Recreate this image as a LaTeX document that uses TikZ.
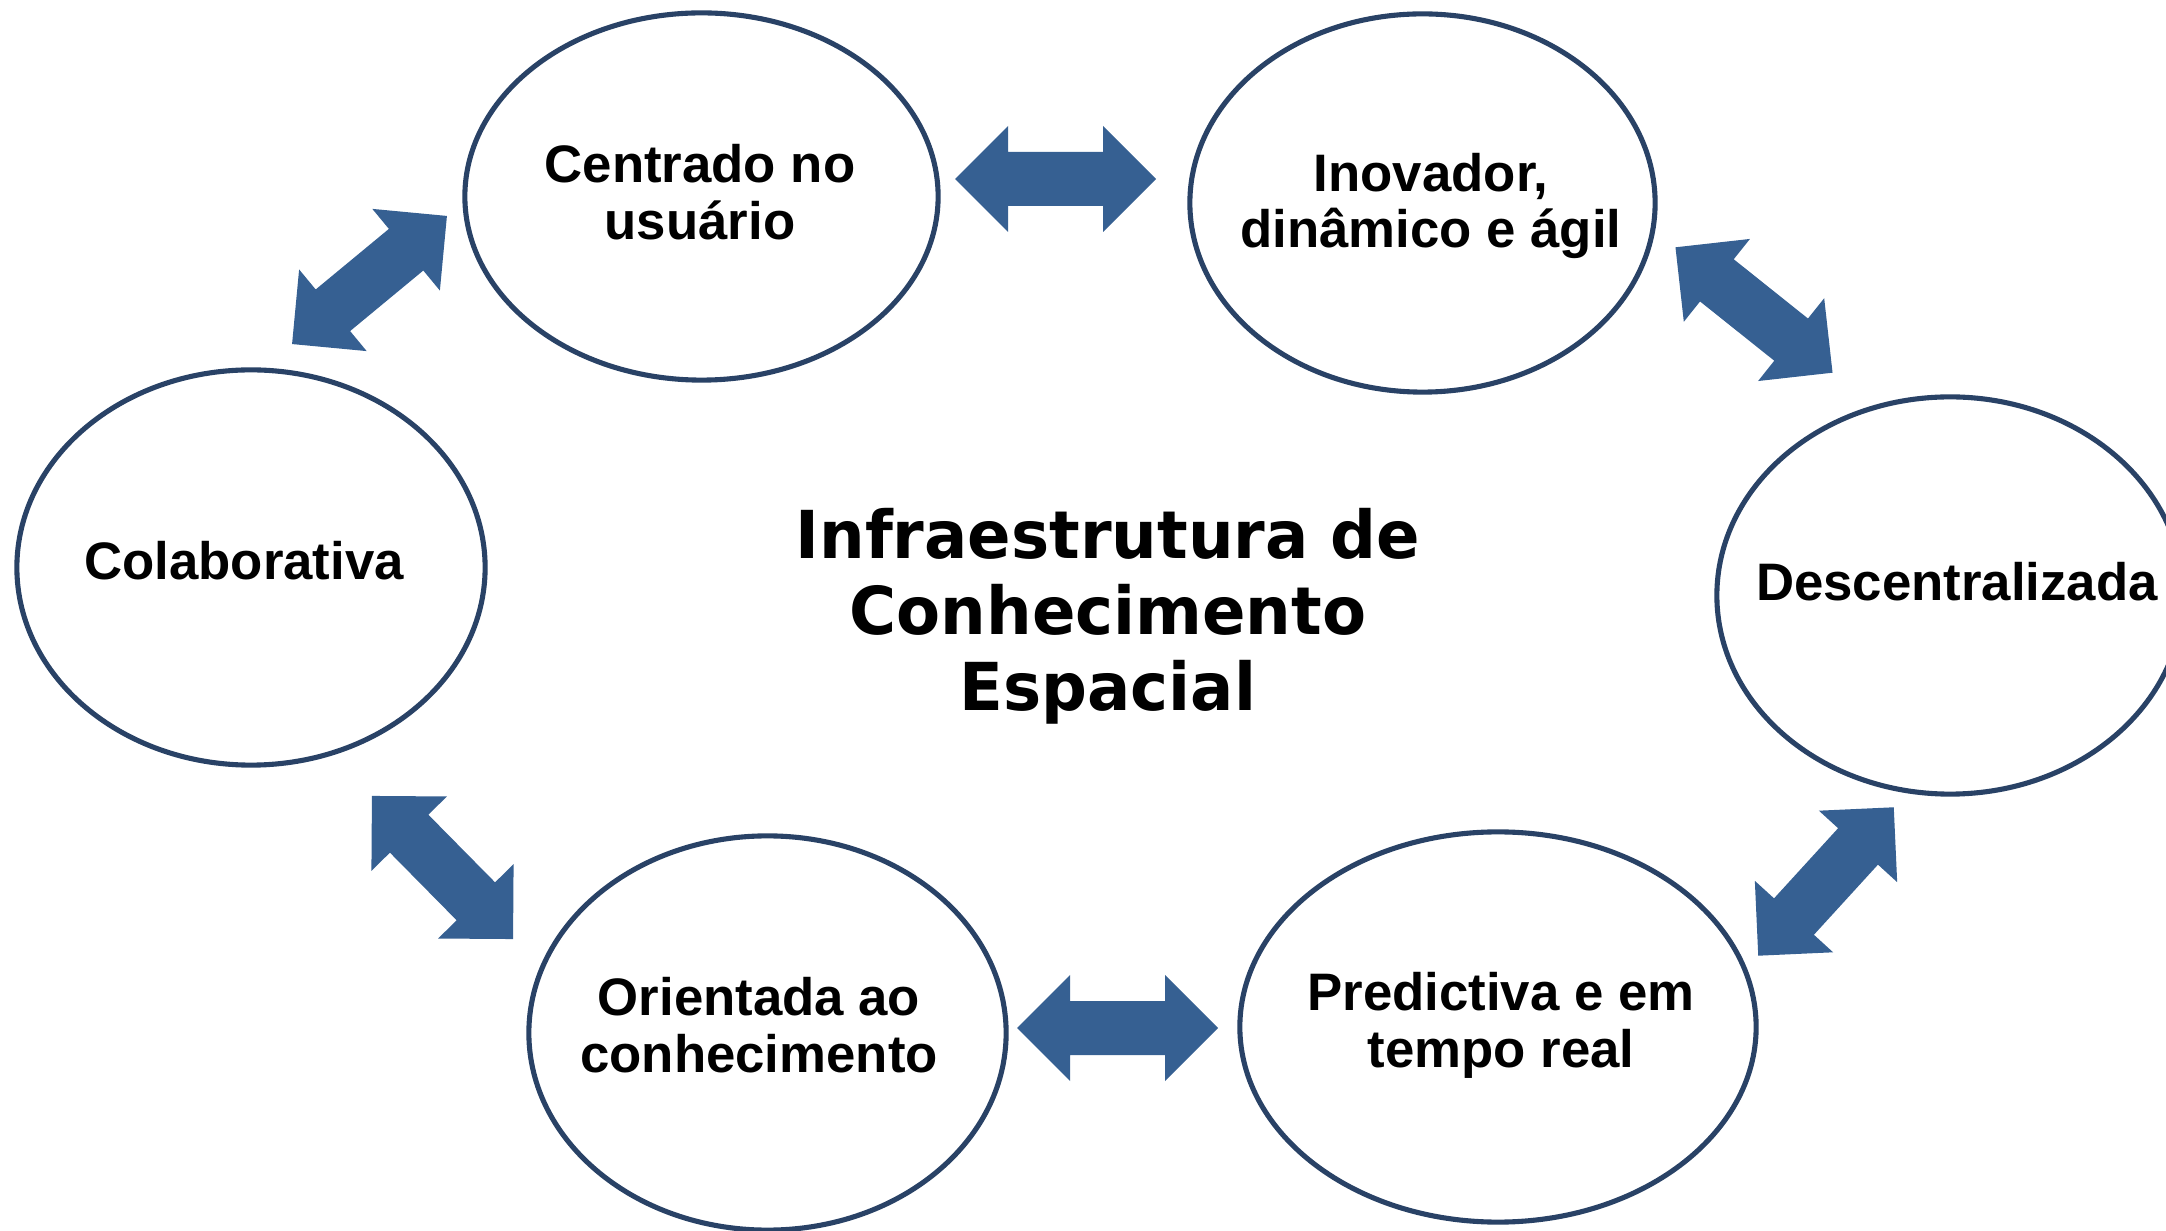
\documentclass[tikz,border=0pt]{standalone}
\usepackage{fontspec}
\setmainfont{Liberation Sans}
\newfontfamily\titlefont[FakeStretch=0.97]{DejaVu Sans}
\usepackage{tikz}
\usetikzlibrary{shapes.geometric}
\definecolor{rim}{RGB}{41,66,102}
\definecolor{flecha}{RGB}{54,96,146}

\tikzset{
  bolha/.style={ellipse, draw=rim, line width=1.45pt, fill=white, inner sep=0pt},
  rotulo/.style={align=center, inner sep=0pt, font=\bfseries\fontsize{15}{16.2}\selectfont},
  dupla/.pic={
    \fill [flecha] (-100.5,0) -- (-47.5,53) -- (-47.5,27) -- (47.5,27) -- (47.5,53)
      -- (100.5,0) -- (47.5,-53) -- (47.5,-27) -- (-47.5,-27) -- (-47.5,-53) -- cycle;
  }
}

\begin{document}
\begin{tikzpicture}[x=0.01cm,y=-0.01cm]
\useasboundingbox (0,0) rectangle (2166,1231);

\node [bolha, minimum width=4.73cm, minimum height=3.67cm] (cen) at (701.5,196.5) {};
\node [bolha, minimum width=4.65cm, minimum height=3.78cm] (ino) at (1422.5,203) {};
\node [bolha, minimum width=4.66cm, minimum height=3.97cm] (des) at (1950,595.5) {};
\node [bolha, minimum width=5.16cm, minimum height=3.90cm] (pre) at (1498,1027) {};
\node [bolha, minimum width=4.77cm, minimum height=3.94cm] (ori) at (767.5,1033) {};
\node [bolha, minimum width=4.68cm, minimum height=3.95cm] (col) at (251,567.5) {};

\node [rotulo] (cen-t) at (700,192) {Centrado no\\usuário};
\node [rotulo] (ino-t) at (1431,206) {Inovador,\\dinâmico e ágil};
\node [rotulo] (des-t) at (1957,581.5) {Descentralizada};
\node [rotulo] (pre-t) at (1501,1025) {Predictiva e em\\tempo real};
\node [rotulo] (ori-t) at (759,1025) {Orientada ao\\conhecimento};
\node [rotulo] (col-t) at (244,561) {Colaborativa};

\node [align=center, inner sep=0pt, font=\titlefont\bfseries\fontsize{18.8}{21.6}\selectfont] (titulo) at (1108,616) {Infraestrutura de\\Conhecimento\\Espacial};

\pic [rotate=39.6] (col-cen) at (369.5,280) {dupla};
\pic (cen-ino) at (1055.5,179) {dupla};
\pic [rotate=-38.6] (ino-des) at (1754,310) {dupla};
\pic [rotate=47.6] (des-pre) at (1826,881.5) {dupla};
\pic (pre-ori) at (1117.5,1028) {dupla};
\pic [rotate=-45.4] (ori-col) at (442.5,867.5) {dupla};
\end{tikzpicture}
\end{document}
